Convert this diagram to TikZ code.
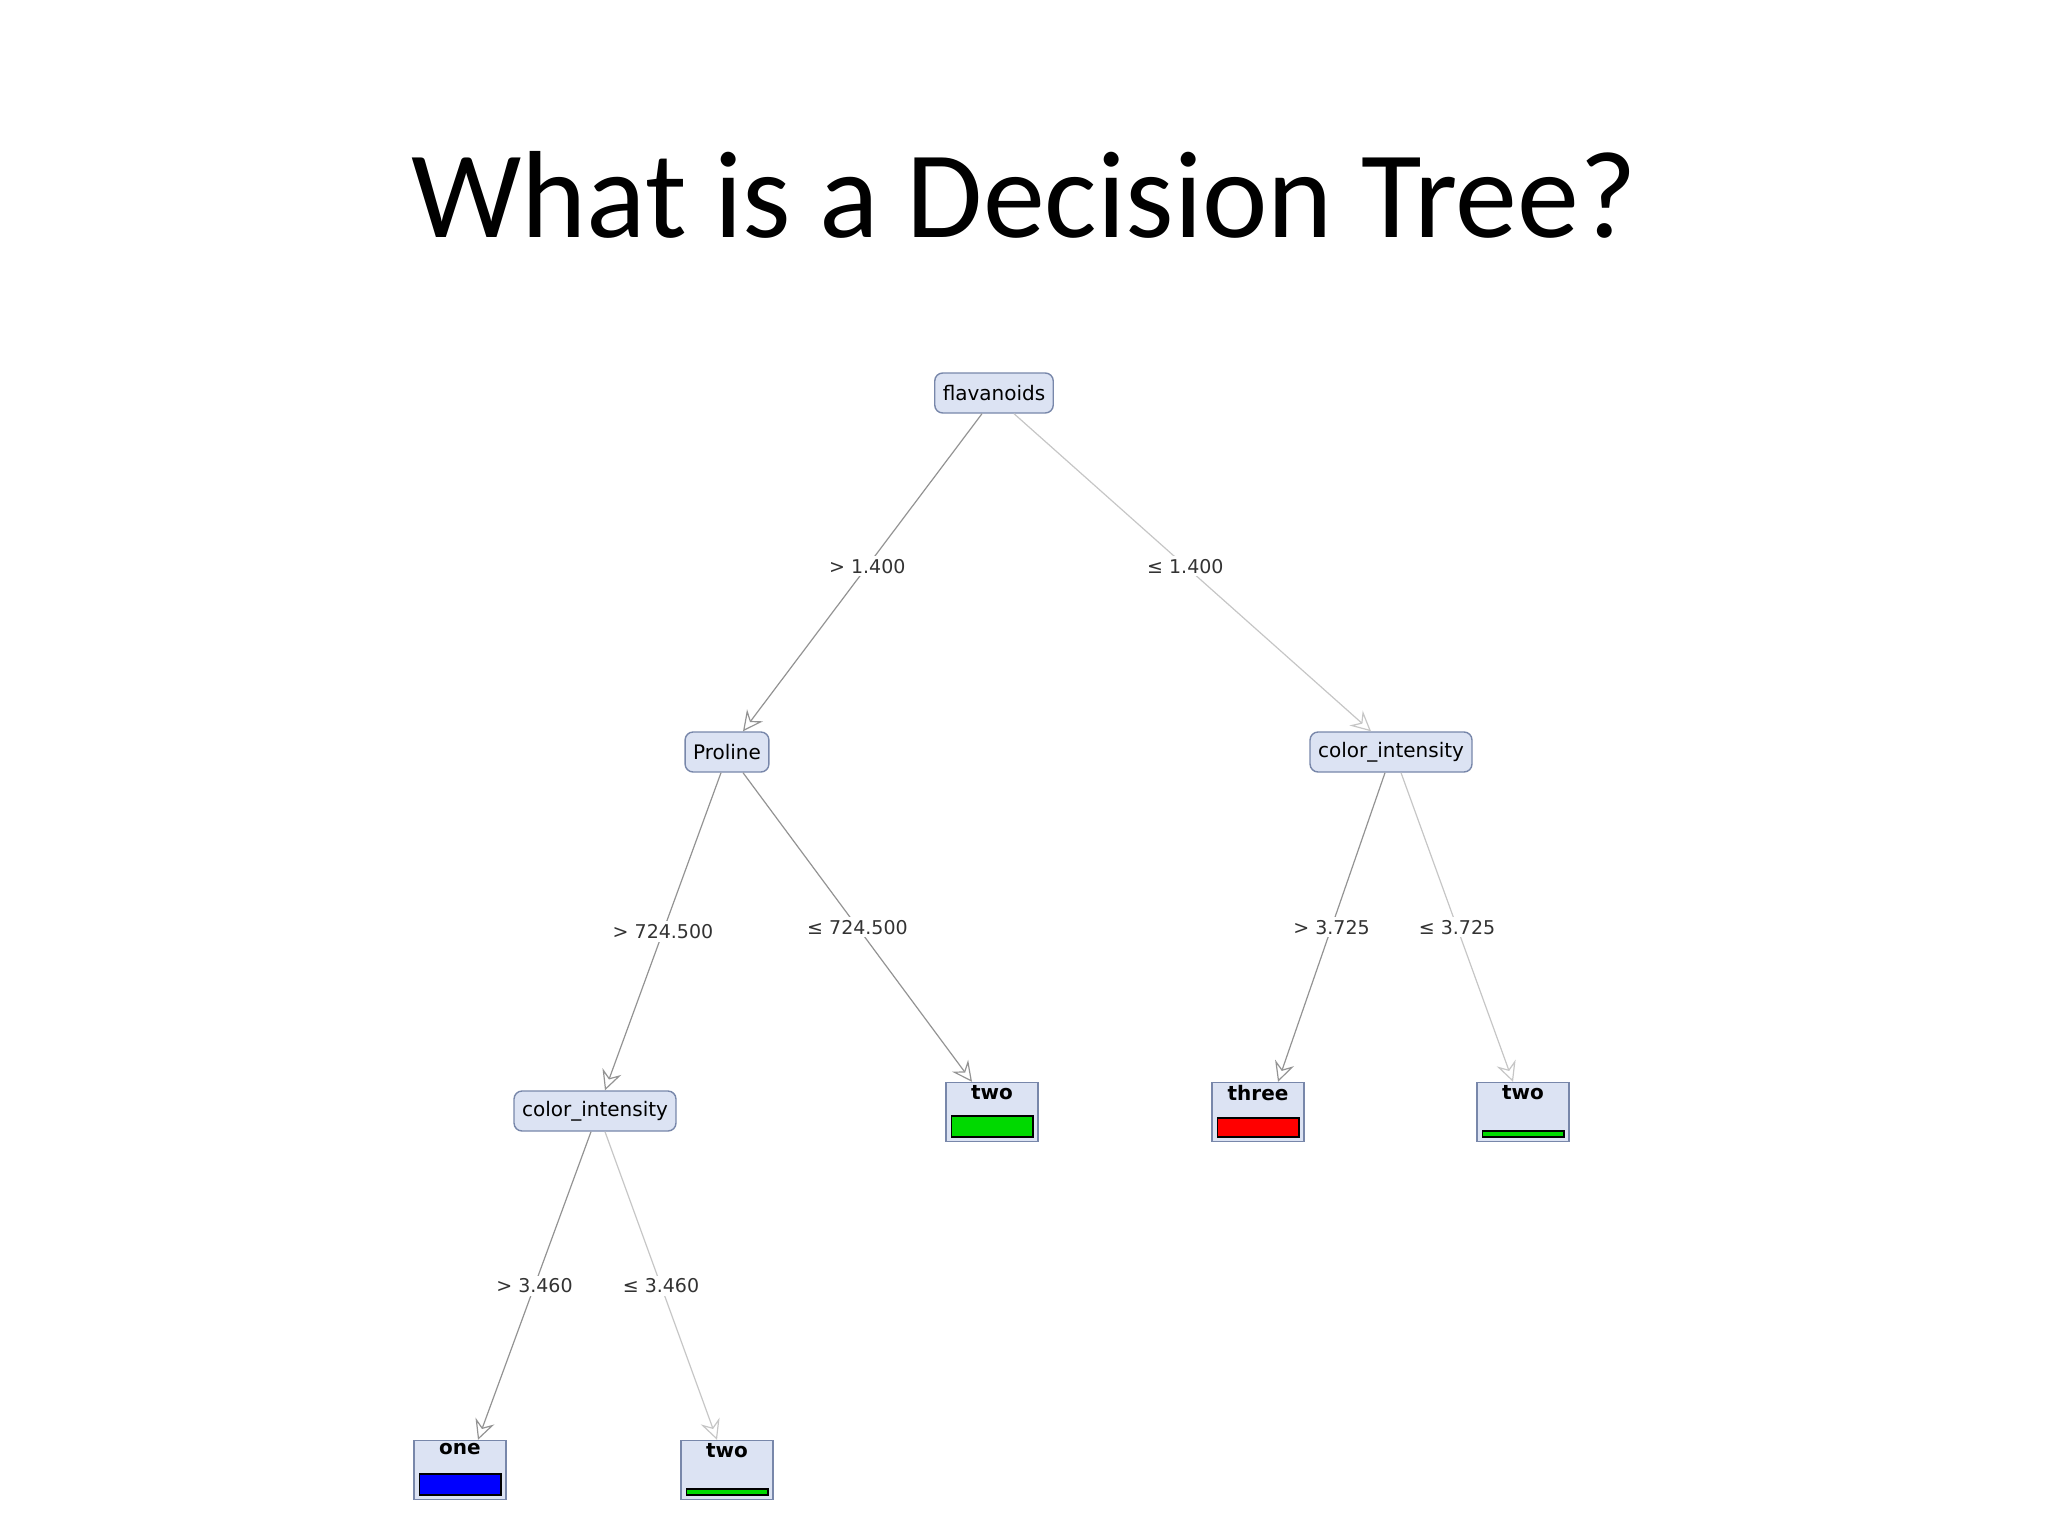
\documentclass[tikz,border=0pt]{standalone}
\usepackage{fontspec}
\setmainfont{DejaVu Sans}
\newfontfamily\titlefont{Carlito}
\usetikzlibrary{arrows.meta}
\definecolor{nodefill}{RGB}{220,227,243}
\definecolor{nodedraw}{RGB}{120,135,170}
\tikzset{
  inner/.style={draw=nodedraw,fill=nodefill,rounded corners=4pt,font=\fontsize{10}{12}\selectfont,minimum height=20pt,inner xsep=4pt,line width=0.7pt},
  leaf/.style={draw=nodedraw,fill=nodefill,minimum width=46pt,minimum height=29.5pt,line width=0.7pt},
  lbl/.style={font=\fontsize{10}{12}\selectfont\bfseries,anchor=north,inner sep=1.5pt},
  edge/.style={draw=gray!85,line width=0.6pt,-{Stealth[length=10pt,width=10pt,open,inset=3.5pt]}},
  edgel/.style={edge,draw=gray!45},
  cond/.style={fill=white,font=\fontsize{9.5}{11}\selectfont,text=black!80,inner sep=1.5pt}
}
\begin{document}
\begin{tikzpicture}[x=0.5pt,y=-0.5pt]
\useasboundingbox (0,0) rectangle (2048,1536);
\node[font=\titlefont\fontsize{62}{66}\selectfont] (title) at (1024,195) {What is a Decision Tree?};
\node[inner] (fl) at (994,393) {flavanoids};
\node[inner] (pr) at (727,752) {Proline};
\node[inner] (cr) at (1391,752) {color\_intensity};
\node[inner] (cl) at (595,1111) {color\_intensity};
\node[leaf] (l2) at (992,1112) {};
\node[leaf] (l3) at (1258,1112) {};
\node[leaf] (l4) at (1523,1112) {};
\node[leaf] (l5) at (460,1470) {};
\node[leaf] (l6) at (727,1470) {};
\foreach \n/\t in {l2/two,l3/three,l4/two,l5/one,l6/two}{\node[lbl] (\n t) at (\n.north) {\t};}
\draw[fill=green!85!black,line width=0.8pt] ([shift={(3pt,2.5pt)}]l2.south west) rectangle ([shift={(-3pt,13pt)}]l2.south east);
\draw[fill=red,line width=0.8pt] ([shift={(3pt,2.5pt)}]l3.south west) rectangle ([shift={(-3pt,12pt)}]l3.south east);
\draw[fill=green!85!black,line width=0.8pt] ([shift={(3pt,2.5pt)}]l4.south west) rectangle ([shift={(-3pt,5.5pt)}]l4.south east);
\draw[fill=blue,line width=0.8pt] ([shift={(3pt,2.5pt)}]l5.south west) rectangle ([shift={(-3pt,13pt)}]l5.south east);
\draw[fill=green!85!black,line width=0.8pt] ([shift={(3pt,2.5pt)}]l6.south west) rectangle ([shift={(-3pt,5.5pt)}]l6.south east);
\draw[edge] ([xshift=-6pt]fl.south) -- ([xshift=8pt]pr.north) node[cond,pos=0.48] {> 1.400};
\draw[edgel] ([xshift=10pt]fl.south) -- ([xshift=-10pt]cr.north) node[cond,pos=0.48] {≤ 1.400};
\draw[edge] ([xshift=-3pt]pr.south) -- ([xshift=5pt]cl.north) node[cond,pos=0.5] {> 724.500};
\draw[edge] ([xshift=8pt]pr.south) -- ([xshift=-10pt]l2.north) node[cond,pos=0.5] {≤ 724.500};
\draw[edge] ([xshift=-3pt]cr.south) -- ([xshift=10pt]l3.north) node[cond,pos=0.5] {> 3.725};
\draw[edgel] ([xshift=5pt]cr.south) -- ([xshift=-5pt]l4.north) node[cond,pos=0.5] {≤ 3.725};
\draw[edge] ([xshift=-2pt]cl.south) -- ([xshift=9pt]l5.north) node[cond,pos=0.5] {> 3.460};
\draw[edgel] ([xshift=5pt]cl.south) -- ([xshift=-5pt]l6.north) node[cond,pos=0.5] {≤ 3.460};
\end{tikzpicture}
\end{document}
